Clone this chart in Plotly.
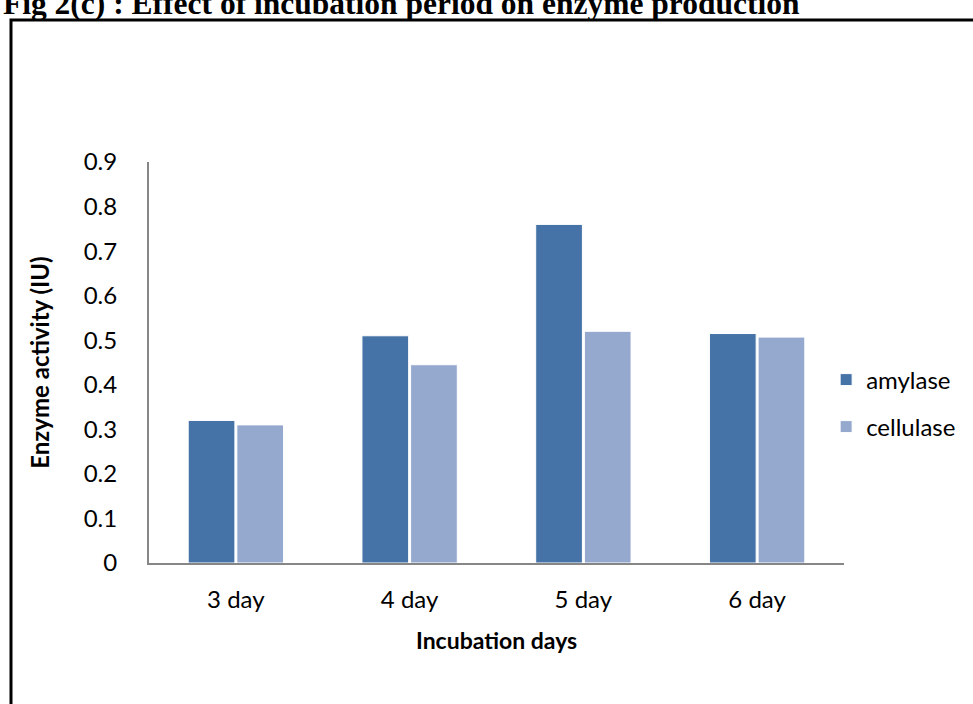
import plotly.graph_objects as go

categories = ["3 day", "4 day", "5 day", "6 day"]
amylase = [0.32, 0.51, 0.76, 0.515]
cellulase = [0.31, 0.445, 0.52, 0.507]
y_ticks = [0, 0.1, 0.2, 0.3, 0.4, 0.5, 0.6, 0.7, 0.8, 0.9]
y_tick_labels = ["0", "0.1", "0.2", "0.3", "0.4", "0.5", "0.6", "0.7", "0.8", "0.9"]

W, H = 973, 704
L, R, T, B = 149, 124, 162, 141
pw, ph = W - L - R, H - T - B

def px(x):
    return (x - L) / pw

def py(y):
    return (H - B - y) / ph

FONT = "Lato, 'Open Sans', sans-serif"

fig = go.Figure()
fig.add_trace(go.Bar(x=categories, y=amylase, name="amylase",
                     marker=dict(color="#4673A7", line=dict(color="white", width=1)),
                     legend="legend"))
fig.add_trace(go.Bar(x=categories, y=cellulase, name="cellulase",
                     marker=dict(color="#95A9CF", line=dict(color="white", width=1)),
                     legend="legend2"))

fig.update_layout(
    width=W, height=H, autosize=False,
    margin=dict(l=L, r=R, t=T, b=B, pad=0),
    paper_bgcolor="white", plot_bgcolor="white",
    barmode="group", bargap=0.44, bargroupgap=0.04,
    font=dict(family=FONT, size=24, color="#000000"),
    xaxis=dict(showline=True, linecolor="#868686", linewidth=2, showgrid=False,
               ticks="", ticklabelstandoff=14, tickfont=dict(size=24, family=FONT),
               zeroline=False),
    yaxis=dict(range=[0, 0.9], tickvals=y_ticks, ticktext=y_tick_labels,
               showline=True, linecolor="#868686", linewidth=2, showgrid=False,
               ticks="", ticklabelstandoff=25, tickfont=dict(size=24, family=FONT),
               zeroline=False),
    legend=dict(x=px(831), y=py(380), xanchor="left", yanchor="middle",
                font=dict(size=24, family=FONT), bgcolor="rgba(0,0,0,0)"),
    legend2=dict(x=px(831), y=py(427), xanchor="left", yanchor="middle",
                 font=dict(size=24, family=FONT), bgcolor="rgba(0,0,0,0)"),
    showlegend=True,
)

fig.add_annotation(text="<b>Enzyme activity (IU)</b>", xref="paper", yref="paper",
                   x=px(38), y=py(363), textangle=-90, showarrow=False,
                   xanchor="center", yanchor="middle",
                   font=dict(size=24, family=FONT, color="black"))
fig.add_annotation(text="<b>Incubation days</b>", xref="paper", yref="paper",
                   x=px(499), y=py(640), showarrow=False,
                   xanchor="center", yanchor="middle",
                   font=dict(size=23, family=FONT, color="black"))
fig.add_annotation(text="<b>Fig 2(c) : Effect of incubation period on enzyme production</b>",
                   xref="paper", yref="paper", x=px(0), y=py(23), showarrow=False,
                   xanchor="left", yanchor="bottom",
                   font=dict(size=31.5, family="'Liberation Serif', 'Times New Roman', serif", color="black"))

fig.add_shape(type="rect", xref="paper", yref="paper",
              x0=px(10), x1=px(1000), y0=py(740), y1=py(20),
              line=dict(color="black", width=3), fillcolor="rgba(0,0,0,0)")

fig.write_html("out.html", config={"displayModeBar": False},
               post_script="document.body.style.margin='0';document.body.style.overflow='hidden';")
